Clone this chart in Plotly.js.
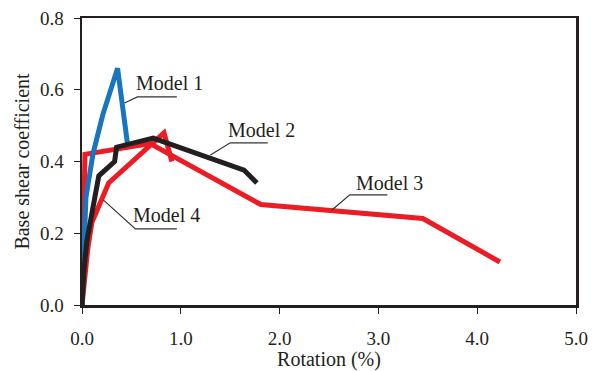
<!DOCTYPE html>
<html>
<head>
<meta charset="utf-8">
<script src="https://cdn.plot.ly/plotly-3.0.1.min.js"></script>
<style>html,body{margin:0;padding:0;background:#fff;}#chart{width:593px;height:371px;}</style>
</head>
<body>
<div id="chart"></div>
<script>
// Data
var model1X = [0, 0.02, 0.04, 0.11, 0.21, 0.36, 0.46];
var model1Y = [0, 0.20, 0.30, 0.42, 0.53, 0.66, 0.45];

var model2X = [0, 0.02, 0.05, 0.12, 0.17, 0.33, 0.35, 0.72, 1.64, 1.77];
var model2Y = [0, 0.10, 0.18, 0.29, 0.36, 0.40, 0.44, 0.465, 0.376, 0.34];

var model3X = [0, 0.03, 0.69, 1.81, 3.45, 4.23];
var model3Y = [0, 0.42, 0.45, 0.28, 0.241, 0.12];

var model4X = [0, 0.03, 0.06, 0.10, 0.27, 0.83, 0.91];
var model4Y = [0, 0.08, 0.16, 0.23, 0.34, 0.48, 0.40];

var labelNames = ["Model 1", "Model 2", "Model 3", "Model 4"];
var labelX = [0.53, 1.46, 2.75, 0.50];
var labelY = [0.619, 0.488, 0.340, 0.251];
// leader lines: [start, elbow, end] for each label
var leaderX = [[0.43, 0.56, 0.96], [1.30, 1.50, 1.88], [2.53, 2.71, 3.09], [0.215, 0.54, 0.96]];
var leaderY = [[0.563, 0.58, 0.58], [0.418, 0.452, 0.452], [0.265, 0.307, 0.307], [0.293, 0.212, 0.212]];

var xTicks = [0, 1, 2, 3, 4, 5];
var xTickText = ["0.0", "1.0", "2.0", "3.0", "4.0", "5.0"];
var yTicks = [0, 0.2, 0.4, 0.6, 0.8];
var yTickText = ["0.0", "0.2", "0.4", "0.6", "0.8"];

var BLUE = "#1a75bf", RED = "#ec1c24", BLACK = "#231f20";
var FONT = "Liberation Serif, Times New Roman, serif";

var traces = [
  {x: model3X, y: model3Y, mode: "lines", line: {color: RED, width: 5}, name: "Model 3"},
  {x: model4X, y: model4Y, mode: "lines", line: {color: RED, width: 5}, name: "Model 4"},
  {x: model1X, y: model1Y, mode: "lines", line: {color: BLUE, width: 5}, name: "Model 1"},
  {x: model2X, y: model2Y, mode: "lines", line: {color: BLACK, width: 5}, name: "Model 2"}
];

var annotations = labelNames.map(function (t, i) {
  return {x: labelX[i], y: labelY[i], xref: "x", yref: "y", text: t, showarrow: false,
          xanchor: "left", yanchor: "middle", font: {family: FONT, size: 20, color: BLACK}};
});
var shapes = leaderX.map(function (xs, i) {
  var ys = leaderY[i];
  var p = "M" + xs[0] + "," + ys[0] + " L" + xs[1] + "," + ys[1] + " L" + xs[2] + "," + ys[2];
  return {type: "path", xref: "x", yref: "y", path: p, line: {color: "#333", width: 1.2}};
});

var layout = {
  width: 593, height: 371,
  margin: {l: 82, r: 17, t: 18, b: 66},
  paper_bgcolor: "#fff", plot_bgcolor: "#fff",
  showlegend: false,
  font: {family: FONT, size: 19, color: BLACK},
  xaxis: {
    range: [0, 5], tickvals: xTicks, ticktext: xTickText,
    ticks: "outside", ticklen: 6, tickwidth: 1, tickcolor: BLACK,
    showline: true, linecolor: BLACK, linewidth: 2.5, mirror: true,
    showgrid: false, zeroline: false, ticklabelstandoff: 9,
    title: {text: "Rotation (%)", font: {family: FONT, size: 20, color: BLACK}, standoff: 3}
  },
  yaxis: {
    range: [0, 0.8], tickvals: yTicks, ticktext: yTickText,
    ticks: "outside", ticklen: 6, tickwidth: 1, tickcolor: BLACK,
    showline: true, linecolor: BLACK, linewidth: 2.5, mirror: true,
    showgrid: false, zeroline: false, ticklabelstandoff: 6,
    title: {text: "Base shear coefficient", font: {family: FONT, size: 20, color: BLACK}, standoff: 5}
  },
  annotations: annotations,
  shapes: shapes
};

Plotly.newPlot("chart", traces, layout, {displayModeBar: false, staticPlot: true});
</script>
</body>
</html>
